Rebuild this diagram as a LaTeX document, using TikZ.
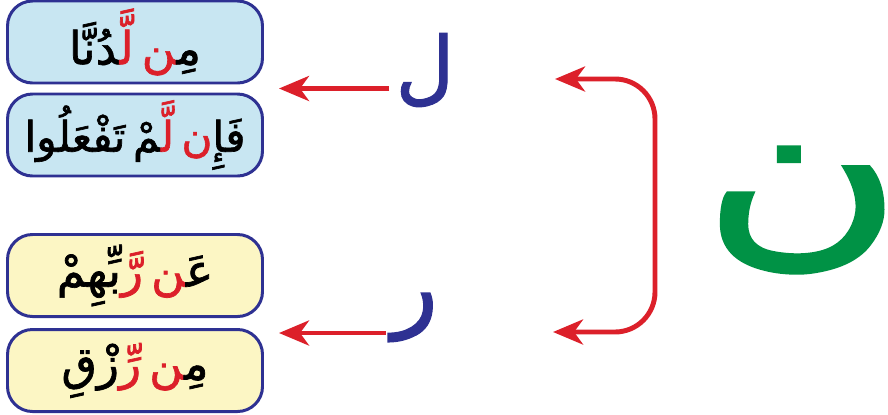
\documentclass[tikz,border=0pt]{standalone}
\usepackage{fontspec}
\usetikzlibrary{arrows.meta, calc}
\newfontfamily\arabicfont[Script=Arabic,FakeBold=1.5]{DejaVu Sans}
\newcommand{\zj}{^^^^200d}
\newcommand{\rd}[1]{\textcolor{arrowred}{#1}}
\newcommand{\wgap}{\hspace{0.18em}}

\definecolor{boxblue}{RGB}{46,49,146}
\definecolor{skyfill}{RGB}{200,230,242}
\definecolor{creamfill}{RGB}{252,246,196}
\definecolor{arrowred}{RGB}{220,32,42}
\definecolor{noongreen}{RGB}{0,146,69}

\tikzset{
  wordbox/.style={draw=boxblue, line width=1.7pt, rounded corners=0.5cm,
    minimum width=5.1cm, minimum height=1.64cm,
    font=\arabicfont\fontsize{26}{30}\selectfont},
  bigletter/.style={font=\arabicfont\fontsize{46}{50}\selectfont, text=boxblue},
  redarrow/.style={draw=arrowred, line width=2.8pt,
    -{Stealth[length=0.6cm,width=0.5cm,inset=0.18cm]}},
  redbracket/.style={draw=arrowred, line width=2.8pt, rounded corners=0.8cm,
    {Stealth[length=0.6cm,width=0.5cm,inset=0.18cm]}-{Stealth[length=0.6cm,width=0.5cm,inset=0.18cm]}},
}

\begin{document}
\begin{tikzpicture}
\useasboundingbox[fill=white] (0,0) rectangle (17.76,-8.28);

% word boxes (pieces set left to right as seen)
\node[wordbox, fill=skyfill] (lamone) at (2.7,-0.84)
  {\zj دُنَّا\rd{لَّ\zj}\wgap\rd{\zj ن}مِ\zj};
\node[wordbox, fill=skyfill, font=\arabicfont\fontsize{24}{28}\selectfont] (lamtwo) at (2.7,-2.7)
  {تَفْعَلُوا\wgap\zj مْ\rd{لَّ\zj}\wgap\rd{ن}فَإِ};
\node[wordbox, fill=creamfill] (rehone) at (2.7,-5.51)
  {بِّهِمْ\rd{رَّ}\wgap\rd{\zj ن}عَ\zj};
\node[wordbox, fill=creamfill] (rehtwo) at (2.7,-7.41)
  {زْقِ\rd{رِّ}\wgap\rd{\zj ن}مِ\zj};

% letters
\node[bigletter] (lam) at (8.5,-1.4) {ل};
\node[bigletter, font=\arabicfont\fontsize{54}{58}\selectfont] (reh) at (8.3,-6.35) {ر};
\node[font=\arabicfont\fontsize{115}{115}\selectfont, text=noongreen] (noon) at (16.05,-4.2)
  {\scalebox{1.35}[1]{ن}};

% arrows to the boxes
\coordinate (lamgap) at ($(lamone.south east)!0.5!(lamtwo.north east)$);
\coordinate (rehgap) at ([yshift=-0.2cm]$(rehone.south east)!0.5!(rehtwo.north east)$);
\draw[redarrow, shorten >=0.3cm] (lam.west |- lamgap) -- (lamgap);
\draw[redarrow, shorten >=0.3cm] (reh.west |- rehgap) -- (rehgap);

% bracket from the noon
\coordinate (brtop) at (11.1,-1.58);
\coordinate (brside) at (13.1,-4.1);
\coordinate (brbot) at (11.06,-6.64);
\draw[redbracket] (brtop) -| (brside) |- (brbot);

\end{tikzpicture}
\end{document}
